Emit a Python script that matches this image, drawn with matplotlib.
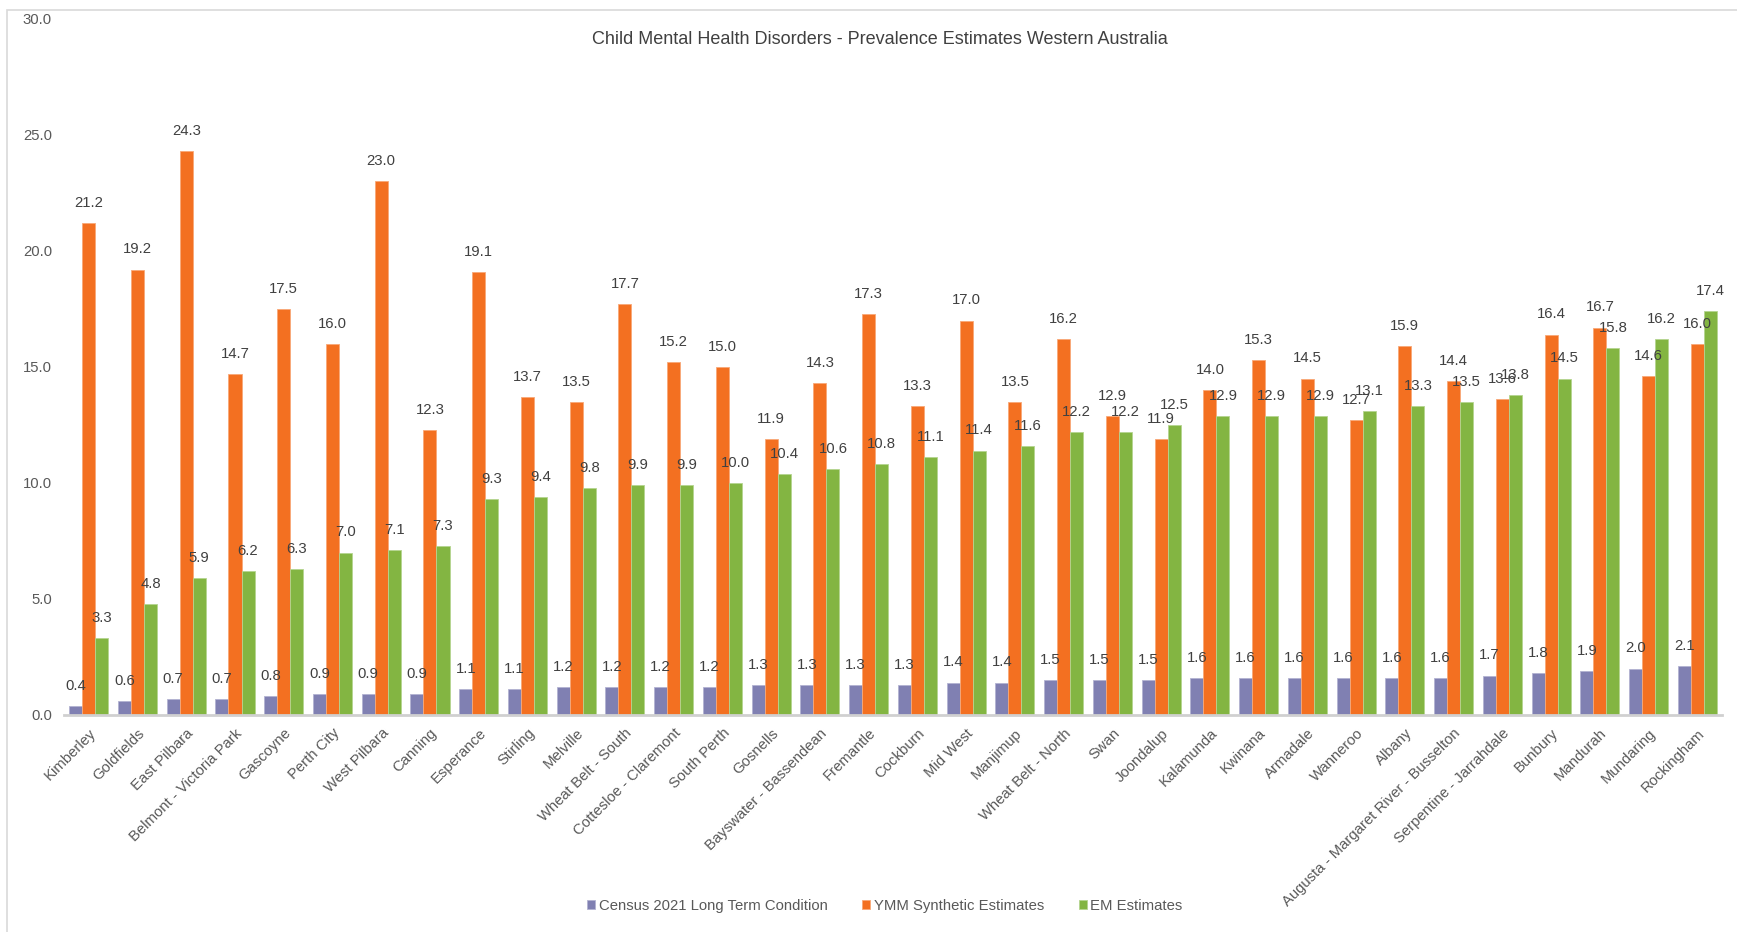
import matplotlib
matplotlib.use("Agg")
import matplotlib.pyplot as plt
import numpy as np
from matplotlib.patches import Rectangle

plt.rcParams['font.family'] = ['Liberation Sans', 'DejaVu Sans']

categories = [
    "Kimberley", "Goldfields", "East Pilbara", "Belmont - Victoria Park", "Gascoyne",
    "Perth City", "West Pilbara", "Canning", "Esperance", "Stirling", "Melville",
    "Wheat Belt - South", "Cottesloe - Claremont", "South Perth", "Gosnells",
    "Bayswater - Bassendean", "Fremantle", "Cockburn", "Mid West", "Manjimup",
    "Wheat Belt - North", "Swan", "Joondalup", "Kalamunda", "Kwinana", "Armadale",
    "Wanneroo", "Albany", "Augusta - Margaret River - Busselton",
    "Serpentine - Jarrahdale", "Bunbury", "Mandurah", "Mundaring", "Rockingham",
]
census = [0.4, 0.6, 0.7, 0.7, 0.8, 0.9, 0.9, 0.9, 1.1, 1.1, 1.2, 1.2, 1.2, 1.2, 1.3,
          1.3, 1.3, 1.3, 1.4, 1.4, 1.5, 1.5, 1.5, 1.6, 1.6, 1.6, 1.6, 1.6, 1.6, 1.7,
          1.8, 1.9, 2.0, 2.1]
ymm = [21.2, 19.2, 24.3, 14.7, 17.5, 16.0, 23.0, 12.3, 19.1, 13.7, 13.5, 17.7, 15.2,
       15.0, 11.9, 14.3, 17.3, 13.3, 17.0, 13.5, 16.2, 12.9, 11.9, 14.0, 15.3, 14.5,
       12.7, 15.9, 14.4, 13.6, 16.4, 16.7, 14.6, 16.0]
em = [3.3, 4.8, 5.9, 6.2, 6.3, 7.0, 7.1, 7.3, 9.3, 9.4, 9.8, 9.9, 9.9, 10.0, 10.4,
      10.6, 10.8, 11.1, 11.4, 11.6, 12.2, 12.2, 12.5, 12.9, 12.9, 12.9, 13.1, 13.3,
      13.5, 13.8, 14.5, 15.8, 16.2, 17.4]
series_names = ["Census 2021 Long Term Condition", "YMM Synthetic Estimates", "EM Estimates"]
yticks = [0, 5, 10, 15, 20, 25, 30]

colors = ["#8080B2", "#F37021", "#83B542"]
edges = ["#B3B3D1", "#F8A878", "#B5D590"]

W, H = 1737, 932
fig = plt.figure(figsize=(W / 100, H / 100), dpi=100)
fig.patch.set_facecolor("white")

# chart frame (top and left edges visible)
fig.add_artist(Rectangle((7 / W, -0.2), 2.0, 1.2 - 10 / H, transform=fig.transFigure,
                         fill=False, edgecolor="#D9D9D9", linewidth=1.2))

ax = fig.add_axes([64.4 / W, 1 - 715 / H, (1721.7 - 64.4) / W, (715 - 19) / H])
x = np.arange(len(categories))
bw = 0.267
fs = 10.7
label_color = "#404040"
for i, (vals, c, ec, name) in enumerate(zip([census, ymm, em], colors, edges, series_names)):
    pos = x + (i - 1) * bw
    ax.bar(pos, vals, width=bw, color=c, edgecolor=ec, linewidth=0.6, label=name)
    for p, v in zip(pos, vals):
        ax.annotate(f"{v:.1f}", (p, v), xytext=(0, 14.5), textcoords="offset points",
                    ha="center", va="center", fontsize=fs, color=label_color)

ax.set_xlim(-0.5, len(categories) - 0.5)
ax.set_ylim(0, 30)
ax.set_yticks(yticks)
ax.set_yticklabels([f"{t:.1f}" for t in yticks])
ax.set_xticks(x)
ax.set_xticklabels(categories, rotation=45, ha="right", rotation_mode="anchor")
ax.tick_params(axis="both", length=0, labelsize=fs, labelcolor="#595959")
ax.tick_params(axis="x", pad=8)
ax.tick_params(axis="y", pad=9)
for s in ["top", "right", "left"]:
    ax.spines[s].set_visible(False)
ax.spines["bottom"].set_color("#D0D0D0")
ax.spines["bottom"].set_linewidth(2)
ax.set_facecolor("none")

fig.text(880 / W, 1 - 39 / H, "Child Mental Health Disorders - Prevalence Estimates Western Australia",
         ha="center", va="center", fontsize=13, color="#404040")

leg = fig.legend(loc="center", bbox_to_anchor=(885 / W, 1 - 906 / H), ncol=3, frameon=False,
                 fontsize=fs, handlelength=0.55, handleheight=0.55, handletextpad=0.25,
                 columnspacing=2.3)
for t in leg.get_texts():
    t.set_color("#595959")

fig.savefig("out.png", dpi=100, facecolor="white")
